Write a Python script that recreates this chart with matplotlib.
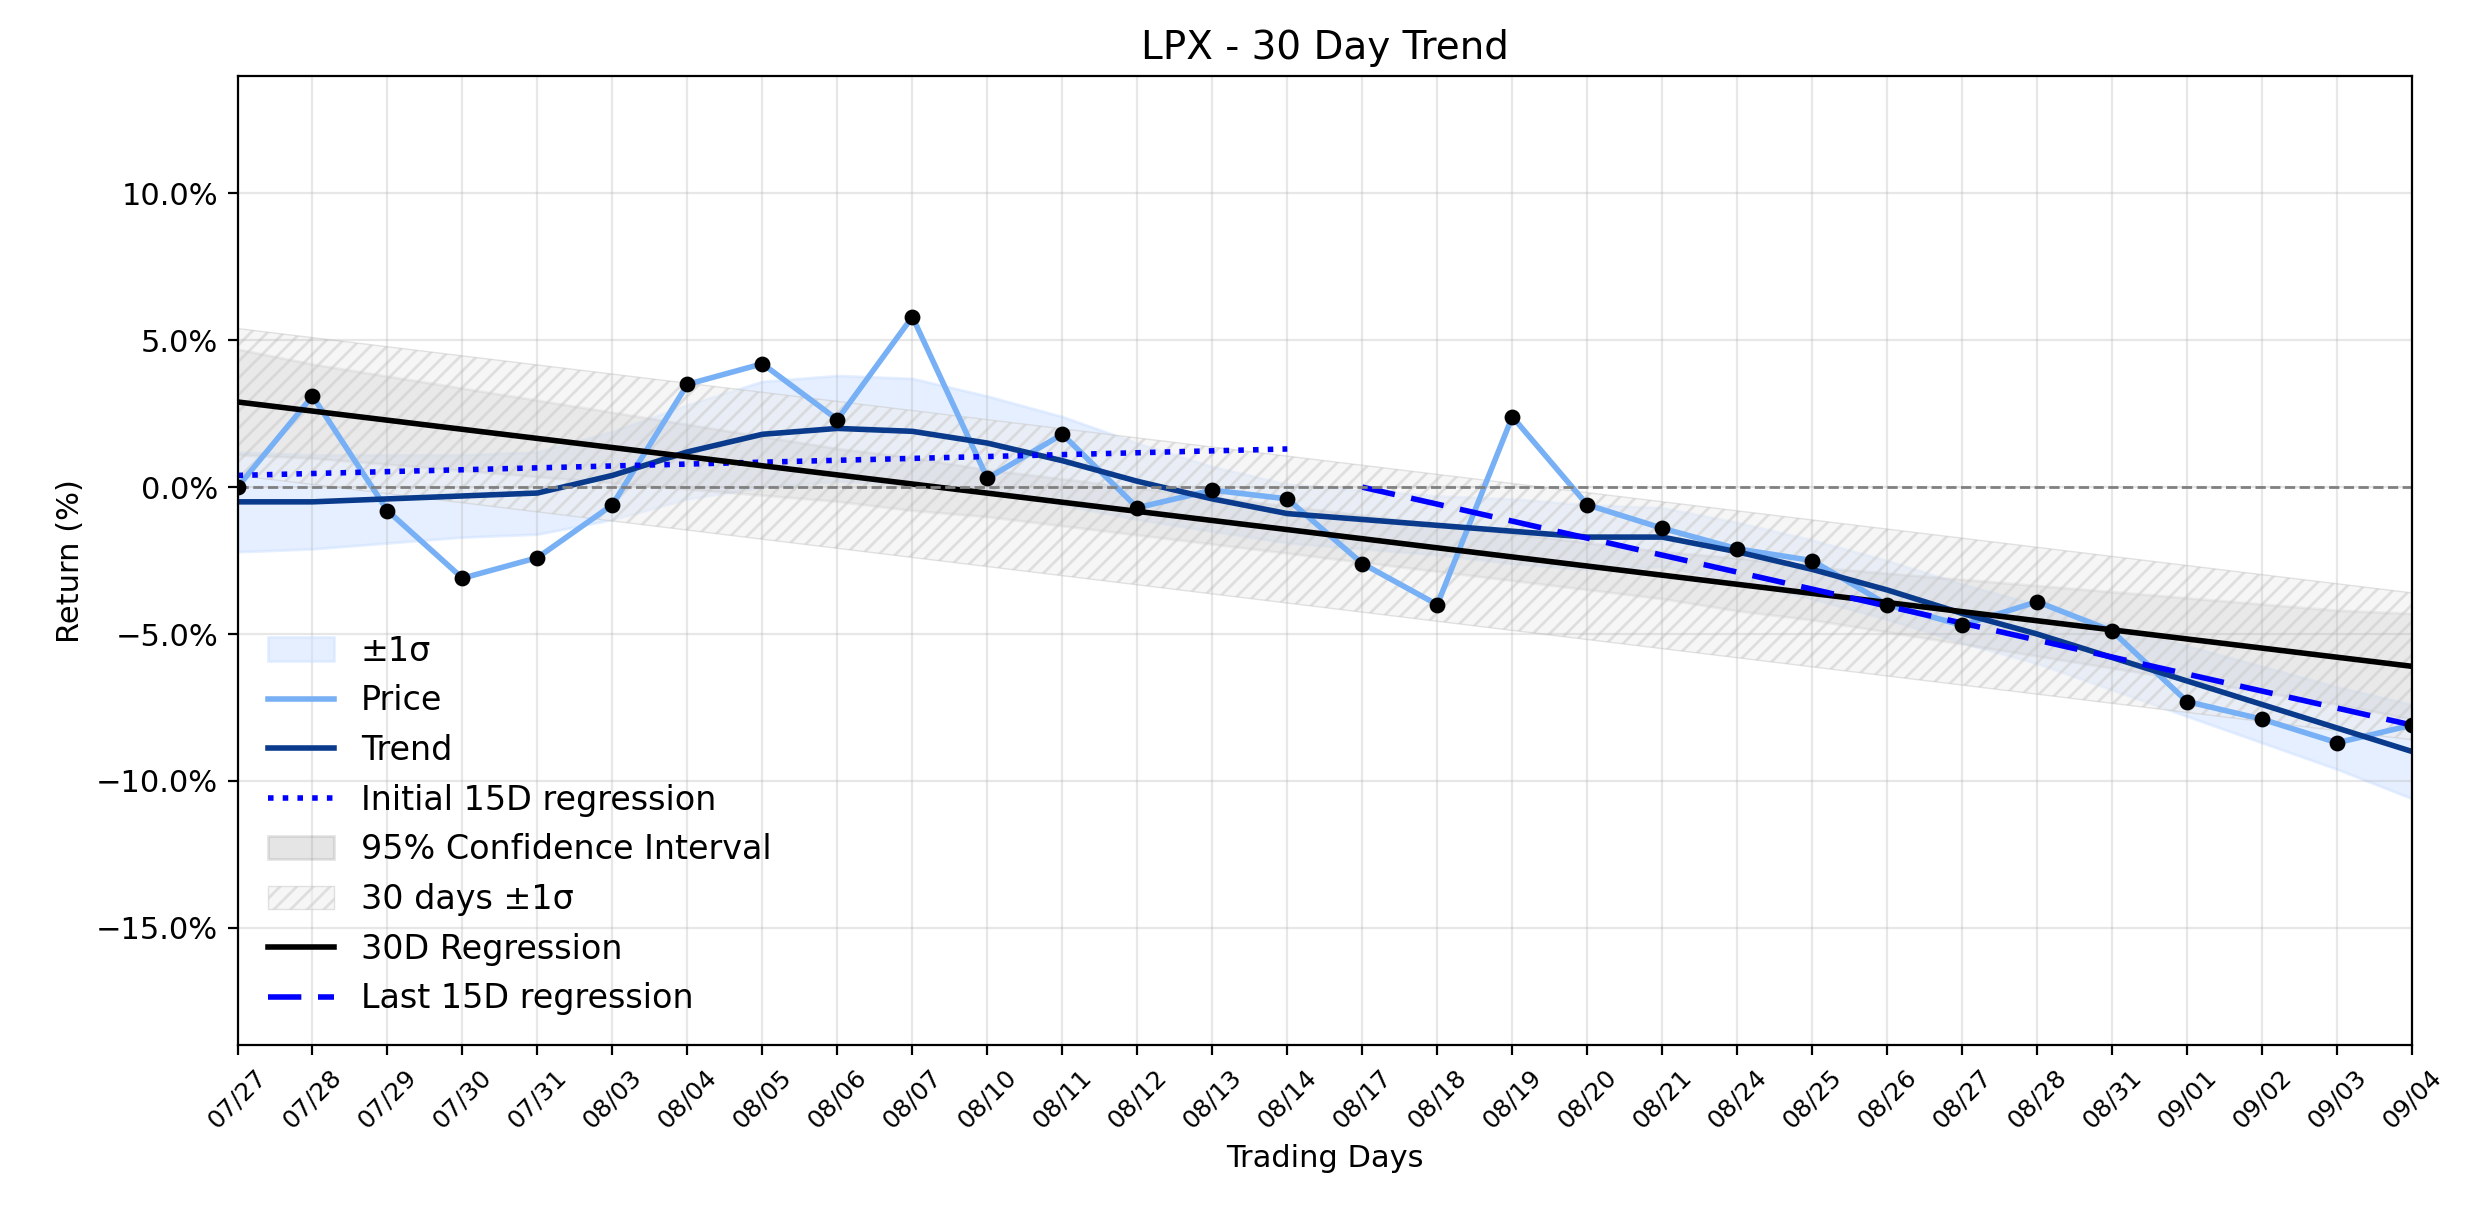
import numpy as np
import matplotlib.pyplot as plt
from matplotlib.ticker import FuncFormatter

dates = ['07/27', '07/28', '07/29', '07/30', '07/31', '08/03', '08/04', '08/05', '08/06', '08/07',
         '08/10', '08/11', '08/12', '08/13', '08/14', '08/17', '08/18', '08/19', '08/20', '08/21',
         '08/24', '08/25', '08/26', '08/27', '08/28', '08/31', '09/01', '09/02', '09/03', '09/04']
price = [0.0, 3.1, -0.8, -3.1, -2.4, -0.6, 3.5, 4.2, 2.3, 5.8,
         0.3, 1.8, -0.7, -0.1, -0.4, -2.6, -4.0, 2.4, -0.6, -1.4,
         -2.1, -2.5, -4.0, -4.7, -3.9, -4.9, -7.3, -7.9, -8.7, -8.1]
trend = [-0.5, -0.5, -0.4, -0.3, -0.2, 0.4, 1.2, 1.8, 2.0, 1.9,
         1.5, 0.9, 0.2, -0.4, -0.9, -1.1, -1.3, -1.5, -1.7, -1.7,
         -2.2, -2.8, -3.5, -4.3, -5.0, -5.8, -6.6, -7.4, -8.2, -9.0]
trend_sigma = [1.7, 1.6, 1.5, 1.4, 1.4, 1.5, 1.6, 1.8, 1.8, 1.8,
               1.6, 1.5, 1.3, 1.1, 1.0, 1.0, 1.0, 1.1, 1.1, 1.0,
               1.0, 1.0, 1.0, 1.0, 1.0, 1.1, 1.2, 1.3, 1.4, 1.6]
reg30 = [2.9, -6.1]          # start / end of 30D regression
reg30_ci = [1.8, 1.6, 1.5, 1.4, 1.3, 1.2, 1.1, 1.0, 0.9, 0.9,
            0.8, 0.8, 0.8, 0.8, 0.8, 0.8, 0.8, 0.8, 0.8, 0.8,
            0.9, 0.9, 1.0, 1.1, 1.2, 1.3, 1.4, 1.5, 1.6, 1.8]
reg30_sigma = 2.5
init15 = [0.4, 1.3]
last15 = [0.0, -8.1]

x = np.arange(len(dates))
reg = np.linspace(reg30[0], reg30[1], len(x))
trend = np.array(trend)
ts = np.array(trend_sigma)
ci = np.array(reg30_ci)

plt.rcParams['hatch.color'] = '#c8c8c8'
fig, ax = plt.subplots(figsize=(12.37, 6.12), dpi=200)
ax.fill_between(x, trend - ts, trend + ts, color='#cce0ff', alpha=0.5, label='±1σ')
ax.plot(x, price, color='#78b0f5', lw=2, label='Price')
ax.plot(x, trend, color='#0a3a8c', lw=2, label='Trend')
ax.plot([0, 14], init15, color='blue', ls=':', lw=2, label='Initial 15D regression')
ax.fill_between(x, reg - ci, reg + ci, color='gray', alpha=0.2, label='95% Confidence Interval')
ax.fill_between(x, reg - reg30_sigma, reg + reg30_sigma, facecolor='#eeeeee', edgecolor='#c8c8c8',
                hatch='////', alpha=0.5, lw=0.5, label='30 days ±1σ')
ax.plot(x, reg, color='black', lw=2, label='30D Regression')
ax.plot([15, 29], last15, color='blue', ls=(0, (6, 3)), lw=2, label='Last 15D regression')
ax.scatter(x, price, color='black', s=22, zorder=5)
ax.axhline(0, color='gray', ls='--', lw=1)

ax.set_xlim(0, 29)
ax.set_ylim(-19, 14)
ax.set_xticks(x)
ax.set_xticklabels(dates, rotation=45, fontsize=9)
ax.tick_params(axis='y', labelsize=11)
ax.yaxis.set_major_formatter(FuncFormatter(lambda v, p: f'{v:.1f}%'.replace('-', '\u2212')))
ax.grid(True, alpha=0.3)
ax.set_title('LPX - 30 Day Trend', fontsize=14)
ax.set_xlabel('Trading Days', fontsize=11)
ax.set_ylabel('Return (%)', fontsize=11)
ax.legend(loc='lower left', frameon=False, fontsize=12)
fig.subplots_adjust(left=0.096, right=0.975, top=0.938, bottom=0.146)
fig.savefig('out.png')
